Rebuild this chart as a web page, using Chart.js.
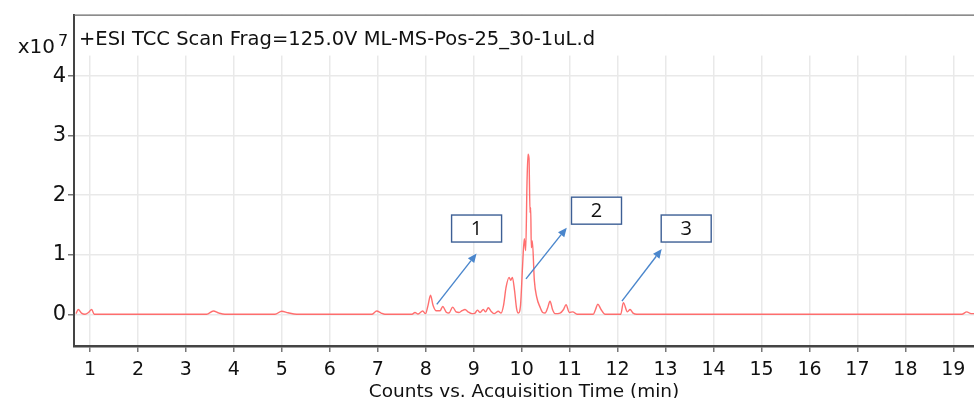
<!DOCTYPE html>
<html>
<head>
<meta charset="utf-8">
<script src="https://cdn.jsdelivr.net/npm/chart.js@4.4.1/dist/chart.umd.min.js"></script>
<style>
  html, body { margin: 0; padding: 0; background: #fff; }
  #wrap { width: 974px; height: 398px; position: relative; }
</style>
</head>
<body>
<div id="wrap"><canvas id="c"></canvas></div>
<script>
// ---- data (time in min, counts in units of 1e7) ----
const times = [
  0.708, 0.756, 0.823, 0.896, 0.969, 1.035, 1.09,
  3.433, 3.571, 3.69, 3.815,
  4.857, 4.997, 5.128, 5.31,
  6.874, 6.978, 7.07, 7.15,
  7.714, 7.776, 7.839, 7.937, 7.995, 8.048, 8.1, 8.152, 8.214, 8.298, 8.354, 8.423, 8.485,
  8.562, 8.632, 8.694, 8.757, 8.819, 8.882, 8.965, 9.028, 9.076, 9.132, 9.2, 9.247, 9.305,
  9.361, 9.424, 9.513, 9.57, 9.622, 9.674, 9.737, 9.772, 9.806, 9.851, 9.893, 9.93, 9.976,
  10.018, 10.055, 10.084, 10.111, 10.132, 10.153, 10.174, 10.188, 10.201, 10.222, 10.264,
  10.313, 10.383, 10.439, 10.487, 10.539, 10.591, 10.643, 10.696, 10.8, 10.873, 10.925,
  10.994, 11.065, 11.154, 11.494, 11.54, 11.586, 11.655, 11.738, 12.066, 12.12, 12.204,
  12.26, 12.322, 12.4, 19.175, 19.279, 19.369, 19.432
];
const counts = [
  0.01, 0.08, 0.02, 0.0, 0.03, 0.08, 0.0,
  0.0, 0.055, 0.02, 0.0,
  0.0, 0.05, 0.025, 0.0,
  0.0, 0.055, 0.02, 0.0,
  0.0, 0.03, 0.005, 0.055, 0.01, 0.15, 0.32, 0.15, 0.06, 0.06, 0.13, 0.04, 0.02,
  0.12, 0.04, 0.03, 0.06, 0.08, 0.04, 0.01, 0.02, 0.07, 0.03, 0.08, 0.04, 0.11,
  0.05, 0.01, 0.05, 0.02, 0.15, 0.45, 0.62, 0.57, 0.62, 0.4, 0.1, 0.02, 0.15,
  0.8, 1.27, 1.07, 2.2, 2.69, 2.62, 1.71, 1.79, 1.12, 1.23, 0.57,
  0.29, 0.12, 0.03, 0.02, 0.1, 0.22, 0.08, 0.01, 0.02, 0.08, 0.16,
  0.03, 0.04, 0.0, 0.0, 0.08, 0.17, 0.08, 0.0, 0.0, 0.195, 0.04,
  0.08, 0.02, 0.0, 0.0, 0.04, 0.01, 0.01
];
const xTicks = [1,2,3,4,5,6,7,8,9,10,11,12,13,14,15,16,17,18,19];
const yTicks = [0,1,2,3,4];
const xRange = [0.667, 19.43];
const yRange = [-0.533, 5.033];

// annotations (data coordinates)
const noteLabels = ['1', '2', '3'];
const noteBoxX = [9.06, 11.56, 13.43];
const noteBoxY = [1.44, 1.74, 1.44];
const arrowFromX = [8.23, 10.09, 12.09];
const arrowFromY = [0.167, 0.595, 0.22];
const arrowToX = [9.06, 10.94, 12.92];
const arrowToY = [1.02, 1.455, 1.095];

const titleText = '+ESI TCC Scan Frag=125.0V ML-MS-Pos-25_30-1uL.d';
const xTitle = 'Counts vs. Acquisition Time (min)';

const FONT = "'DejaVu Sans', sans-serif";

const points = times.map((t, i) => ({ x: t, y: counts[i] }));

const decor = {
  id: 'decor',
  beforeDatasetsDraw(chart) {
    const { ctx, chartArea: a } = chart;
    ctx.save();
    // blank the title band (grid not drawn there)
    ctx.fillStyle = '#fff';
    ctx.fillRect(a.left + 1, a.top, a.right - a.left, 41);
    // top frame
    ctx.strokeStyle = '#666';
    ctx.lineWidth = 1.2;
    ctx.beginPath();
    ctx.moveTo(a.left, a.top + 0.5);
    ctx.lineTo(a.right, a.top + 0.5);
    ctx.stroke();
    ctx.restore();
  },
  afterDatasetsDraw(chart) {
    const { ctx, chartArea: a, scales } = chart;
    const xs = scales.x, ys = scales.y;
    ctx.save();
    // title
    ctx.fillStyle = '#111';
    ctx.font = '19.5px ' + FONT;
    ctx.textBaseline = 'alphabetic';
    ctx.textAlign = 'left';
    ctx.fillText(titleText, a.left + 5, a.top + 30);
    // exponent label
    ctx.textAlign = 'right';
    ctx.font = '20px ' + FONT;
    ctx.fillText('x10', a.left - 19, a.top + 38);
    ctx.font = '16px ' + FONT;
    ctx.textAlign = 'left';
    ctx.fillText('7', a.left - 16, a.top + 31);

    // arrows
    ctx.strokeStyle = '#4a86cc';
    ctx.fillStyle = '#4a86cc';
    ctx.lineWidth = 1.4;
    for (let i = 0; i < arrowFromX.length; i++) {
      const x0 = xs.getPixelForValue(arrowFromX[i]);
      const y0 = ys.getPixelForValue(arrowFromY[i]);
      const x1 = xs.getPixelForValue(arrowToX[i]);
      const y1 = ys.getPixelForValue(arrowToY[i]);
      const ang = Math.atan2(y1 - y0, x1 - x0);
      const hl = 9, hw = 4;
      const bx = x1 - hl * Math.cos(ang), by = y1 - hl * Math.sin(ang);
      ctx.beginPath();
      ctx.moveTo(x0, y0);
      ctx.lineTo(bx, by);
      ctx.stroke();
      ctx.beginPath();
      ctx.moveTo(x1, y1);
      ctx.lineTo(bx + hw * Math.sin(ang), by - hw * Math.cos(ang));
      ctx.lineTo(bx - hw * Math.sin(ang), by + hw * Math.cos(ang));
      ctx.closePath();
      ctx.fill();
    }
    // boxes
    for (let i = 0; i < noteLabels.length; i++) {
      const cx = xs.getPixelForValue(noteBoxX[i]);
      const cy = ys.getPixelForValue(noteBoxY[i]);
      const w = 50, h = 27;
      ctx.fillStyle = '#fff';
      ctx.fillRect(cx - w / 2, cy - h / 2, w, h);
      ctx.strokeStyle = '#3d5f95';
      ctx.lineWidth = 1.4;
      ctx.strokeRect(cx - w / 2, cy - h / 2, w, h);
      ctx.fillStyle = '#111';
      ctx.font = "20px 'Open Sans', " + FONT;
      ctx.textAlign = 'center';
      ctx.textBaseline = 'middle';
      ctx.fillText(noteLabels[i], cx, cy + 1);
    }
    ctx.restore();
  }
};

new Chart(document.getElementById('c'), {
  type: 'line',
  data: {
    datasets: [{
      data: points,
      borderColor: 'rgba(255, 95, 95, 0.9)',
      borderWidth: 1.4,
      pointRadius: 0,
      fill: false,
      cubicInterpolationMode: 'monotone'
    }]
  },
  options: {
    responsive: true,
    maintainAspectRatio: false,
    animation: false,
    layout: { padding: { top: 12, right: 0, left: 0, bottom: 0 } },
    plugins: { legend: { display: false }, tooltip: { enabled: false } },
    scales: {
      x: {
        type: 'linear',
        min: xRange[0], max: xRange[1],
        afterBuildTicks(scale) { scale.ticks = xTicks.map(v => ({ value: v })); },
        afterFit(scale) { scale.height = 52; },
        grid: { color: '#e9e9e9', lineWidth: 1.5, tickColor: '#777', tickLength: 6, tickWidth: 1.5 },
        border: { display: true, color: '#444', width: 2.5 },
        ticks: { color: '#111', font: { family: FONT, size: 19 }, padding: 7, maxRotation: 0, autoSkip: false },
        title: { display: true, text: xTitle, color: '#111', font: { family: FONT, size: 18.5 }, padding: { top: 0, bottom: -5 } }
      },
      y: {
        type: 'linear',
        min: yRange[0], max: yRange[1],
        afterBuildTicks(scale) { scale.ticks = yTicks.map(v => ({ value: v })); },
        afterFit(scale) { scale.width = 74; },
        grid: { color: '#e9e9e9', lineWidth: 1.5, tickColor: '#777', tickLength: 6, tickWidth: 1.5 },
        border: { display: true, color: '#444', width: 2 },
        ticks: { color: '#111', font: { family: FONT, size: 21 }, padding: 2 }
      }
    }
  },
  plugins: [decor]
});
</script>
</body>
</html>
